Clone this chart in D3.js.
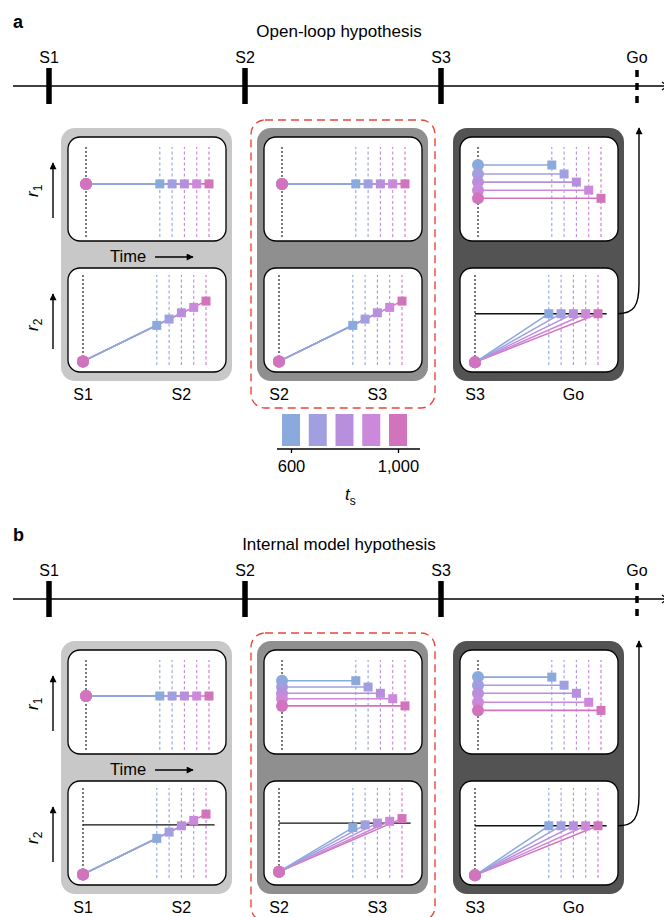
<!DOCTYPE html>
<meta charset="utf-8">
<style>
body { margin: 0; background: #fff; }
text { font-family: "Liberation Sans", Arial, sans-serif; font-size: 16px; fill: #000; }
</style>
<body>
<script src="https://cdn.jsdelivr.net/npm/d3@7/dist/d3.min.js"></script>
<script>

var width = 664,
    height = 917,
    rowShift = 513;

// interval lengths (ms) and their colours
var ts = [600, 700, 800, 900, 1000];
var tsColors = ["#8aa9dd", "#a19fe0", "#b78fdd", "#cc88da", "#d274bd"];

var events = ["S1", "S2", "S3", "Go"];
var epochs = [["S1", "S2"], ["S2", "S3"], ["S3", "Go"]];
var letters = ["a", "b"];
var titles = ["Open-loop hypothesis", "Internal model hypothesis"];
var panelShades = ["#c8c8c8", "#8f8f8f", "#535353"];
var legendTicks = [600, 1000];

// open-loop: r1 level at epoch onset (per ts), r2 start and end, threshold
var openR1 = [
  [0.59, 0.59, 0.59, 0.59, 0.59],
  [0.59, 0.59, 0.59, 0.59, 0.59],
  [0.80, 0.70, 0.61, 0.52, 0.43]
];
var openR2Start = [0.04, 0.04, 0.03];
var openR2End = [
  [0.44, 0.51, 0.58, 0.64, 0.71],
  [0.44, 0.51, 0.58, 0.64, 0.71],
  [0.57, 0.57, 0.57, 0.57, 0.57]
];
var openThreshold = [null, null, 0.57];

// internal model
var internalR1 = [
  [0.60, 0.60, 0.60, 0.60, 0.60],
  [0.77, 0.70, 0.63, 0.57, 0.49],
  [0.81, 0.72, 0.63, 0.53, 0.44]
];
var internalR2Start = [0.04, 0.07, 0.03];
var internalR2End = [
  [0.44, 0.51, 0.58, 0.64, 0.71],
  [0.56, 0.59, 0.61, 0.63, 0.66],
  [0.58, 0.58, 0.58, 0.58, 0.58]
];
var internalThreshold = [0.59, 0.61, 0.58];

var hyps = [
  {r1: openR1, r2s: openR2Start, r2e: openR2End, thr: openThreshold},
  {r1: internalR1, r2s: internalR2Start, r2e: internalR2End, thr: internalThreshold}
];

var svg = d3.select("body").append("svg")
    .attr("width", width)
    .attr("height", height);

svg.append("defs").append("marker")
    .attr("id", "head")
    .attr("viewBox", "0 0 10 10")
    .attr("refX", 9).attr("refY", 5)
    .attr("markerWidth", 8).attr("markerHeight", 7)
    .attr("markerUnits", "userSpaceOnUse")
    .attr("orient", "auto")
  .append("path")
    .attr("d", "M0,0L10,5L0,10z")
    .attr("fill", "#000");

var evX = d3.scalePoint().domain(events).range([49, 637]);

function drawEpoch(g, k, hyp) {
  var px = evX(epochs[k][0]) + 12,
      ix = px + 7;

  g.append("rect")
      .attr("x", px).attr("y", 128)
      .attr("width", 171).attr("height", 253)
      .attr("rx", 14)
      .attr("fill", panelShades[k]);

  [137, 268].forEach(function(top) {
    g.append("rect")
        .attr("x", ix).attr("y", top)
        .attr("width", 158).attr("height", 104)
        .attr("rx", 12)
        .attr("fill", "#fff")
        .attr("stroke", "#000")
        .attr("stroke-width", 1.3);
  });

  var xt = d3.scaleLinear().domain([0, 1000]).range([ix + 18, ix + 141]),
      yt = d3.scaleLinear().domain([0, 1]).range([237, 147]),
      xb = d3.scaleLinear().domain([0, 1000]).range([ix + 15, ix + 138]),
      yb = d3.scaleLinear().domain([0, 1]).range([365, 275]);

  // guides
  [[xt, yt], [xb, yb]].forEach(function(s) {
    g.append("line")
        .attr("x1", s[0](0)).attr("x2", s[0](0))
        .attr("y1", s[1](0)).attr("y2", s[1](1))
        .attr("stroke", "#222").attr("stroke-width", 1.2)
        .attr("stroke-dasharray", "2,2");
    g.selectAll(null).data(ts).join("line")
        .attr("x1", function(d) { return s[0](d); })
        .attr("x2", function(d) { return s[0](d); })
        .attr("y1", s[1](0)).attr("y2", s[1](1))
        .attr("stroke", function(d, i) { return tsColors[i]; })
        .attr("stroke-width", 1.1)
        .attr("stroke-dasharray", "3,2.5");
  });

  // r1
  var r1 = hyp.r1[k];
  var idx = d3.range(ts.length);
  g.selectAll(null).data(idx.slice().reverse()).join("line")
      .attr("x1", xt(0))
      .attr("x2", function(i) { return xt(ts[i]); })
      .attr("y1", function(i) { return yt(r1[i]); })
      .attr("y2", function(i) { return yt(r1[i]); })
      .attr("stroke", function(i) { return tsColors[i]; })
      .attr("stroke-width", 1.6);
  g.selectAll(null).data(idx).join("rect")
      .attr("x", function(i) { return xt(ts[i]) - 4.5; })
      .attr("y", function(i) { return yt(r1[i]) - 4.5; })
      .attr("width", 9).attr("height", 9)
      .attr("fill", function(i) { return tsColors[i]; });
  g.selectAll(null).data(idx).join("circle")
      .attr("cx", xt(0))
      .attr("cy", function(i) { return yt(r1[i]); })
      .attr("r", 6)
      .attr("fill", function(i) { return tsColors[i]; });

  // r2
  if (hyp.thr[k] != null) {
    g.append("line")
        .attr("x1", xb(0)).attr("x2", xb(1070))
        .attr("y1", yb(hyp.thr[k])).attr("y2", yb(hyp.thr[k]))
        .attr("stroke", "#111").attr("stroke-width", 1.4);
  }
  var r2e = hyp.r2e[k], r2s = hyp.r2s[k];
  g.selectAll(null).data(idx.slice().reverse()).join("line")
      .attr("x1", xb(0)).attr("y1", yb(r2s))
      .attr("x2", function(i) { return xb(ts[i]); })
      .attr("y2", function(i) { return yb(r2e[i]); })
      .attr("stroke", function(i) { return tsColors[i]; })
      .attr("stroke-width", 1.5);
  g.selectAll(null).data(idx).join("rect")
      .attr("x", function(i) { return xb(ts[i]) - 4.5; })
      .attr("y", function(i) { return yb(r2e[i]) - 4.5; })
      .attr("width", 9).attr("height", 9)
      .attr("fill", function(i) { return tsColors[i]; });
  g.selectAll(null).data(idx).join("circle")
      .attr("cx", xb(0)).attr("cy", yb(r2s))
      .attr("r", 6)
      .attr("fill", function(i) { return tsColors[i]; });

  // labels under panel
  g.append("text").attr("x", xb(0)).attr("y", 400)
      .attr("text-anchor", "middle").text(epochs[k][0]);
  g.append("text").attr("x", xb(800)).attr("y", 400)
      .attr("text-anchor", "middle").text(epochs[k][1]);

  // arrow to Go
  if (epochs[k][1] === "Go") {
    var y0 = yb(hyp.thr[k]), ax = px + 186, sx = ix + 158;
    g.append("path")
        .attr("d", "M" + sx + "," + y0 + "C" + (sx + 16) + "," + y0 + " " + ax + "," + (y0 - 8) + " " + ax + "," + (y0 - 30) + "L" + ax + ",128")
        .attr("fill", "none")
        .attr("stroke", "#000").attr("stroke-width", 1.4)
        .attr("marker-end", "url(#head)");
  }

  // red dashed highlight on middle epoch
  if (k === 1) {
    g.append("rect")
        .attr("x", px - 6).attr("y", 120)
        .attr("width", 184).attr("height", 288)
        .attr("rx", 14)
        .attr("fill", "none")
        .attr("stroke", "#e8473c").attr("stroke-width", 1.4)
        .attr("stroke-dasharray", "8,5");
  }
}

hyps.forEach(function(hyp, h) {
  var g = svg.append("g").attr("transform", "translate(0," + h * rowShift + ")");

  g.append("text").attr("x", 13).attr("y", 28)
      .style("font-weight", "bold").style("font-size", "18px")
      .text(letters[h]);
  g.append("text").attr("x", 339).attr("y", 37)
      .attr("text-anchor", "middle").style("font-size", "17px")
      .text(titles[h]);

  // timeline
  g.append("line").attr("x1", 13).attr("x2", 664).attr("y1", 86).attr("y2", 86)
      .attr("stroke", "#000").attr("stroke-width", 1.3);
  g.append("path").attr("d", "M662,82L667,86L662,90")
      .attr("fill", "none").attr("stroke", "#000").attr("stroke-width", 1.2);
  events.forEach(function(e) {
    if (e === "Go") {
      g.append("line").attr("x1", evX(e)).attr("x2", evX(e))
          .attr("y1", 70).attr("y2", 104)
          .attr("stroke", "#000").attr("stroke-width", 3.5)
          .attr("stroke-dasharray", "7,6");
    } else {
      g.append("rect").attr("x", evX(e) - 2.75).attr("y", 68)
          .attr("width", 5.5).attr("height", 36).attr("fill", "#000");
    }
    g.append("text").attr("x", evX(e)).attr("y", 63)
        .attr("text-anchor", "middle").text(e);
  });

  epochs.forEach(function(ep, k) { drawEpoch(g, k, hyp); });

  // r1 / r2 axis arrows
  [[218, 163, 190, "1"], [349, 294, 324, "2"]].forEach(function(a) {
    g.append("line").attr("x1", 53).attr("x2", 53).attr("y1", a[0]).attr("y2", a[1])
        .attr("stroke", "#000").attr("stroke-width", 1.4)
        .attr("marker-end", "url(#head)");
    var t = g.append("text")
        .attr("transform", "translate(38," + (a[2] + 7) + ") rotate(-90)");
    t.append("tspan").style("font-style", "italic").style("font-size", "17px").text("r");
    t.append("tspan").attr("dy", 4).style("font-size", "12px").text(a[3]);
  });

  // time arrow
  var px0 = evX(epochs[0][0]) + 12;
  g.append("text").attr("x", px0 + 49).attr("y", 262).style("font-size", "16.5px").text("Time");
  g.append("line").attr("x1", px0 + 94).attr("x2", px0 + 132).attr("y1", 257).attr("y2", 257)
      .attr("stroke", "#000").attr("stroke-width", 1.4)
      .attr("marker-end", "url(#head)");
});

// t_s legend
var lx = d3.scaleLinear().domain([600, 1000]).range([291, 398]);
var lg = svg.append("g").attr("transform", "translate(0,449)");
lg.selectAll("rect").data(ts).join("rect")
    .attr("x", function(d) { return lx(d) - 9; })
    .attr("y", -35)
    .attr("width", 18).attr("height", 32)
    .attr("fill", function(d, i) { return tsColors[i]; });
lg.call(d3.axisBottom(lx).tickValues(legendTicks).tickFormat(d3.format(",")).tickSize(4).tickPadding(7))
    .call(function(a) {
      a.attr("font-size", null).attr("font-family", null);
      a.select(".domain").attr("d", "M" + (lx(600) - 14) + ",0H" + (lx(1000) + 22))
          .attr("stroke-width", 1.3);
      a.selectAll(".tick line").attr("stroke-width", 1.3);
      a.selectAll("text").style("font-size", "16.5px");
    });
var tl = svg.append("text").attr("x", 345).attr("y", 500);
tl.append("tspan").style("font-style", "italic").style("font-size", "17px").text("t");
tl.append("tspan").attr("dy", 5).style("font-size", "12px").text("s");

</script>
</body>
